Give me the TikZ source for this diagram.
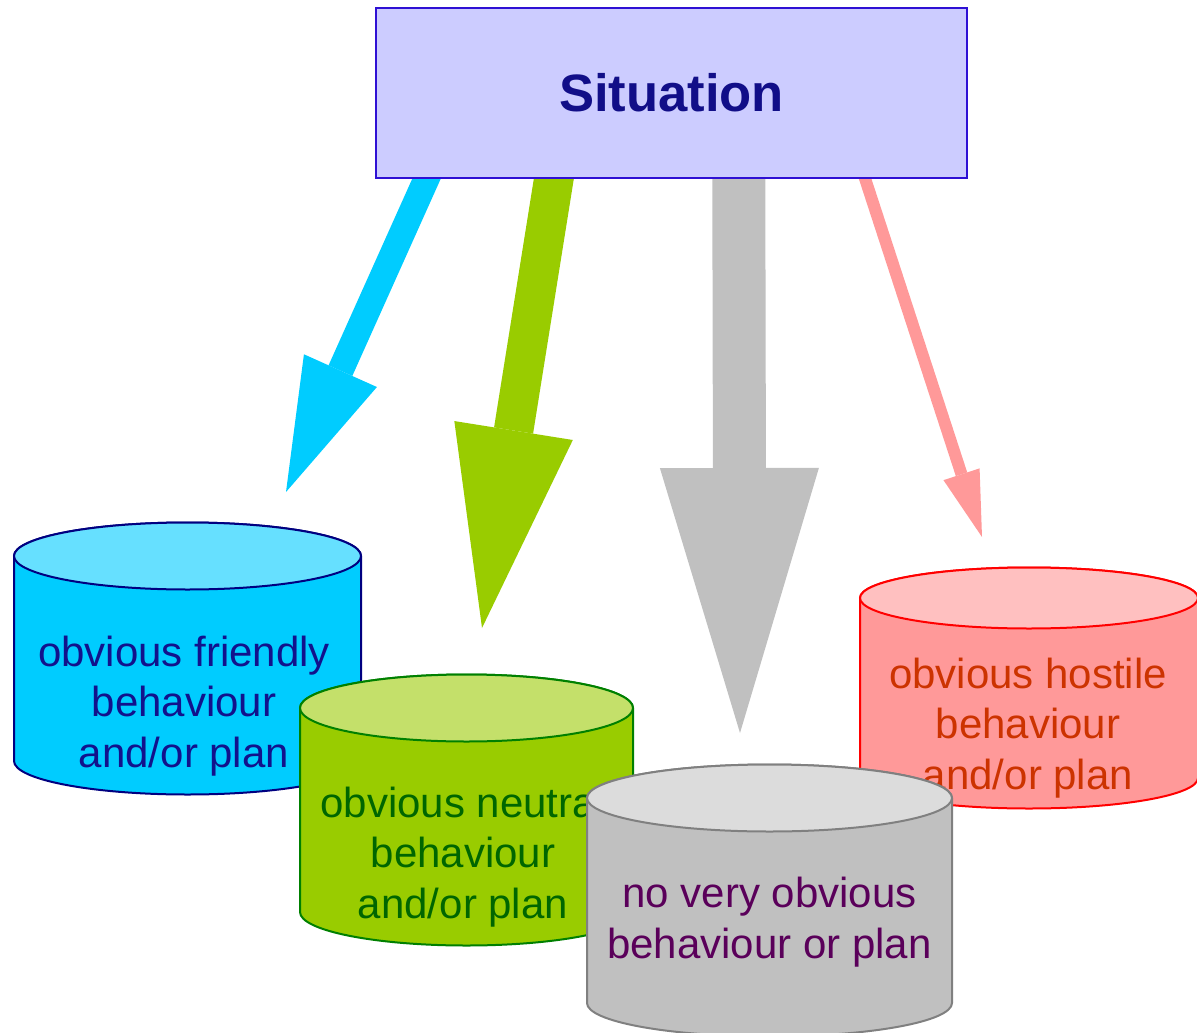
\documentclass[tikz,border=0pt]{standalone}
\usepackage{fontspec}
\setmainfont{Liberation Sans}
\usetikzlibrary{arrows.meta, backgrounds}

\definecolor{sitfill}{HTML}{CCCCFF}
\definecolor{sitline}{HTML}{2E10D4}
\definecolor{sittext}{HTML}{110E88}
\definecolor{friendlybody}{HTML}{00CCFF}
\definecolor{friendlytop}{HTML}{66E0FF}
\definecolor{friendlyline}{HTML}{000080}
\definecolor{friendlytext}{HTML}{12128C}
\definecolor{neutralbody}{HTML}{99CC00}
\definecolor{neutraltop}{HTML}{C4E06A}
\definecolor{neutralline}{HTML}{008000}
\definecolor{neutraltext}{HTML}{006600}
\definecolor{nonebody}{HTML}{C0C0C0}
\definecolor{nonetop}{HTML}{DCDCDC}
\definecolor{noneline}{HTML}{808080}
\definecolor{nonetext}{HTML}{5A005A}
\definecolor{hostilebody}{HTML}{FF9999}
\definecolor{hostiletop}{HTML}{FFC0C0}
\definecolor{hostileline}{HTML}{FF0000}
\definecolor{hostiletext}{HTML}{CC3300}

% tank: centre x, top y, bottom y, x radius, y radius, line, body, top
\newcommand{\drawtank}[8]{%
  \filldraw[draw=#6, fill=#7, line width=2pt]
    (#1-#4,#2) -- (#1-#4,#3)
    arc[start angle=180, end angle=360, x radius=#4pt, y radius=#5pt]
    -- (#1+#4,#2)
    arc[start angle=0, end angle=180, x radius=#4pt, y radius=#5pt] -- cycle;
  \filldraw[draw=#6, fill=#8, line width=2pt]
    (#1,#2) ellipse [x radius=#4pt, y radius=#5pt];
}

\tikzset{
  sitbox/.style={draw=sitline, fill=sitfill, line width=2.5pt,
    minimum width=591pt, minimum height=170pt, text=sittext,
    font=\fontsize{52.6}{60}\selectfont\bfseries},
  tanktext/.style={align=center, inner sep=0pt,
    font=\fontsize{42}{50.5}\selectfont},
  bigarrow/.style n args={4}{#1, line width=#2pt,
    -{Triangle[length=#3pt, width=#4pt, line width=0pt]}}
}

\begin{document}
\begin{tikzpicture}[x=1pt, y=-1pt]
    \useasboundingbox (0,0) rectangle (1197,1033);

    % The situation box
    \node[sitbox] (sit) at (671.5,93) {Situation};

    % Where the arrows start and end
    \coordinate (fs) at ([xshift=60.5pt, yshift=20pt]sit.south west);
    \coordinate (ns) at ([xshift=182.2pt, yshift=20pt]sit.south west);
    \coordinate (gs) at ([xshift=364pt, yshift=20pt]sit.south west);
    \coordinate (hs) at ([xshift=484pt, yshift=20pt]sit.south west);
    \coordinate (ft) at (286,492);
    \coordinate (nt) at (482,628);
    \coordinate (gt) at (740,733);
    \coordinate (ht) at (982,537);

    % The arrows, behind the box
    \begin{scope}[on background layer]
    \draw[bigarrow={friendlybody}{26}{133}{80}] (fs) -- (ft);
    \draw[bigarrow={neutralbody}{39.5}{200}{120}] (ns) -- (nt);
    \draw[bigarrow={nonebody}{53}{265}{159}] (gs) -- (gt);
    \draw[bigarrow={hostilebody}{12}{66}{38}] (hs) -- (ht);
    \end{scope}

    % The tanks
    \drawtank{187.5}{556}{761}{173.5}{33.5}{friendlyline}{friendlybody}{friendlytop}
    \node[tanktext, text=friendlytext] (friendly) at (184,706)
        {obvious friendly\\behaviour\\and/or plan};

    \drawtank{1029}{598}{778}{169}{30.5}{hostileline}{hostilebody}{hostiletop}
    \node[tanktext, text=hostiletext] (hostile) at (1028,728)
        {obvious hostile\\behaviour\\and/or plan};

    \drawtank{466.5}{708}{912}{166.5}{33.5}{neutralline}{neutralbody}{neutraltop}
    \node[tanktext, text=neutraltext] (neutral) at (463,857)
        {obvious neutral\\behaviour\\and/or plan};

    \drawtank{769.5}{798}{1003}{182.5}{33.5}{noneline}{nonebody}{nonetop}
    \node[tanktext, text=nonetext] (none) at (769.5,922)
        {no very obvious\\behaviour or plan};

\end{tikzpicture}
\end{document}
